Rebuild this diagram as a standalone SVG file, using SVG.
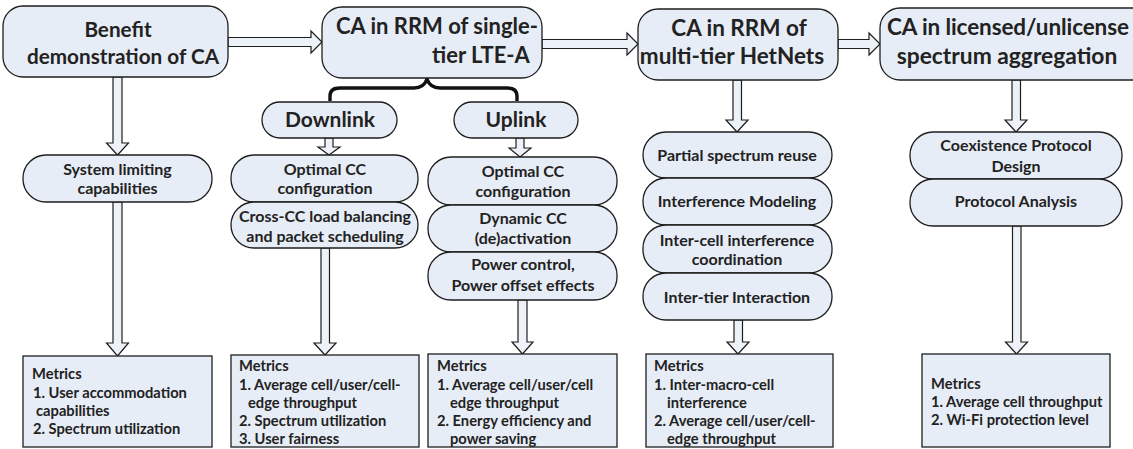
<svg xmlns="http://www.w3.org/2000/svg" width="1133" height="449" viewBox="0 0 1133 449">
<style>
.box{fill:#e7edf6;stroke:#1e1e1e;stroke-width:1.3}
.arr{fill:#edf1f8;stroke:#1e1e1e;stroke-width:1.2;stroke-linejoin:miter}
.brace{fill:none;stroke:#111;stroke-width:3.4;stroke-linejoin:round}
text{font-family:Lato,"Liberation Sans",sans-serif;font-weight:bold;fill:#222}
.t1{font-size:20.7px;text-anchor:middle}
.t2{font-size:21px;text-anchor:middle}
.t3{font-size:16px;text-anchor:middle}
.t4{font-size:14.7px}
</style>
<rect width="1133" height="449" fill="#ffffff"/>
<g id="connectors">
<polygon class="arr" points="228,37.5 311,37.5 311,31 322,42 311,53 311,46.5 228,46.5"/>
<polygon class="arr" points="542,39.5 627,39.5 627,33 638,44 627,55 627,48.5 542,48.5"/>
<polygon class="arr" points="838,39.5 869,39.5 869,33 880,44 869,55 869,48.5 838,48.5"/>
<polygon class="arr" points="113,77 122,77 122,143 128.5,143 117.5,155 106.5,143 113,143"/>
<polygon class="arr" points="113,202 122,202 122,343 128.5,343 117.5,356 106.5,343 113,343"/>
<polygon class="arr" points="325,138 333,138 333,147 340,147 329,155 318,147 325,147"/>
<polygon class="arr" points="321,248 329.5,248 329.5,343 336,343 325,355 314,343 321,343"/>
<polygon class="arr" points="516,138 524,138 524,148 531,148 520,157 509,148 516,148"/>
<polygon class="arr" points="518,300 527,300 527,342 533,342 522.5,354 512,342 518,342"/>
<polygon class="arr" points="733,80 741.5,80 741.5,120 748,120 737,132 726,120 733,120"/>
<polygon class="arr" points="734,320 742.5,320 742.5,342 749,342 738,354 727,342 734,342"/>
<polygon class="arr" points="1012,80 1020.5,80 1020.5,120 1027,120 1016,132 1005,120 1012,120"/>
<polygon class="arr" points="1012.5,226 1021,226 1021,342 1027.5,342 1016.5,354 1005.5,342 1012.5,342"/>
<path class="brace" d="M330,101 V96 Q330,88 340,88 H414 Q424,88 427,79 Q430,88 440,88 H507 Q517,88 517,96 V101"/>
</g>
<g id="benefit">
<rect class="box" x="3" y="6" width="225" height="71" rx="20"/>
<text class="t1" x="118" y="37">Benefit</text>
<text class="t1" x="123" y="64">demonstration of CA</text>
</g>
<g id="single-tier">
<rect class="box" x="322" y="7" width="220" height="71" rx="20"/>
<text class="t1" x="437" y="34" style="font-size:22px">CA in RRM of single-</text>
<text class="t1" x="432" y="63" style="text-anchor:start;font-size:22px">tier LTE-A</text>
</g>
<g id="multi-tier">
<rect class="box" x="638" y="9" width="200" height="71" rx="20"/>
<text class="t1" x="739" y="36" style="font-size:22.5px">CA in RRM of</text>
<text class="t1" x="732" y="64" style="font-size:22.5px">multi-tier HetNets</text>
</g>
<g id="licensed">
<rect class="box" x="880" y="8" width="272" height="72" rx="20"/>
<text class="t1" x="887" y="35" style="text-anchor:start;font-size:22.5px" textLength="242" lengthAdjust="spacing">CA in licensed/unlicense</text>
<text class="t1" x="1007" y="64" style="font-size:22.8px">spectrum aggregation</text>
</g>
<g id="downlink">
<rect class="box" x="262" y="102" width="135" height="36" rx="18"/>
<text class="t2" x="330" y="127">Downlink</text>
</g>
<g id="uplink">
<rect class="box" x="454" y="102" width="124" height="36" rx="18"/>
<text class="t2" x="516" y="127">Uplink</text>
</g>
<g id="system-limiting">
<rect class="box" x="23" y="155" width="189" height="47" rx="23"/>
<text class="t3" x="117.5" y="175">System limiting</text>
<text class="t3" x="117.5" y="194">capabilities</text>
</g>
<g id="dl-optimal-cc">
<rect class="box" x="231" y="155" width="187" height="47" rx="23"/>
<text class="t3" x="325" y="175">Optimal CC</text>
<text class="t3" x="325" y="194">configuration</text>
</g>
<g id="dl-cross-cc">
<rect class="box" x="231" y="202" width="187" height="46" rx="23"/>
<text class="t3" x="325" y="222">Cross-CC load balancing</text>
<text class="t3" x="325" y="242">and packet scheduling</text>
</g>
<g id="ul-optimal-cc">
<rect class="box" x="428" y="157" width="189" height="48" rx="23"/>
<text class="t3" x="523" y="177">Optimal CC</text>
<text class="t3" x="523" y="197">configuration</text>
</g>
<g id="ul-dynamic-cc">
<rect class="box" x="428" y="205" width="189" height="47" rx="23"/>
<text class="t3" x="523" y="224">Dynamic CC</text>
<text class="t3" x="523" y="244">(de)activation</text>
</g>
<g id="ul-power">
<rect class="box" x="428" y="252" width="189" height="48" rx="23"/>
<text class="t3" x="523" y="270">Power control,</text>
<text class="t3" x="523" y="291">Power offset effects</text>
</g>
<g id="partial-reuse">
<rect class="box" x="643" y="132" width="189" height="46" rx="23"/>
<text class="t3" x="737" y="161">Partial spectrum reuse</text>
</g>
<g id="interference-modeling">
<rect class="box" x="643" y="178" width="189" height="47" rx="23"/>
<text class="t3" x="737" y="207">Interference Modeling</text>
</g>
<g id="icic">
<rect class="box" x="643" y="225" width="189" height="48" rx="23"/>
<text class="t3" x="737" y="246">Inter-cell interference</text>
<text class="t3" x="737" y="265">coordination</text>
</g>
<g id="inter-tier">
<rect class="box" x="643" y="273" width="189" height="47" rx="23"/>
<text class="t3" x="737" y="303">Inter-tier Interaction</text>
</g>
<g id="coexistence">
<rect class="box" x="910" y="132" width="212" height="47" rx="23"/>
<text class="t3" x="1016" y="151">Coexistence Protocol</text>
<text class="t3" x="1016" y="172">Design</text>
</g>
<g id="protocol-analysis">
<rect class="box" x="910" y="179" width="212" height="47" rx="23"/>
<text class="t3" x="1016" y="207">Protocol Analysis</text>
</g>
<g id="metrics-1">
<rect class="box" x="23" y="356" width="189" height="91"/>
<text class="t4" x="32" y="379">Metrics</text>
<text class="t4" x="33" y="398">1. User accommodation</text>
<text class="t4" x="36" y="416">capabilities</text>
<text class="t4" x="33" y="434">2. Spectrum utilization</text>
</g>
<g id="metrics-2">
<rect class="box" x="231" y="355" width="188" height="92"/>
<text class="t4" x="239" y="371">Metrics</text>
<text class="t4" x="239" y="390">1. Average cell/user/cell-</text>
<text class="t4" x="248" y="408">edge throughput</text>
<text class="t4" x="239" y="426">2. Spectrum utilization</text>
<text class="t4" x="239" y="444">3. User fairness</text>
</g>
<g id="metrics-3">
<rect class="box" x="428" y="354" width="189" height="93"/>
<text class="t4" x="437" y="371">Metrics</text>
<text class="t4" x="437" y="390">1. Average cell/user/cell</text>
<text class="t4" x="450" y="408">edge throughput</text>
<text class="t4" x="437" y="426">2. Energy efficiency and</text>
<text class="t4" x="450" y="444">power saving</text>
</g>
<g id="metrics-4">
<rect class="box" x="646" y="354" width="187" height="93"/>
<text class="t4" x="654" y="371">Metrics</text>
<text class="t4" x="654" y="390">1. Inter-macro-cell</text>
<text class="t4" x="667" y="408">interference</text>
<text class="t4" x="654" y="426">2. Average cell/user/cell-</text>
<text class="t4" x="667" y="444">edge throughput</text>
</g>
<g id="metrics-5">
<rect class="box" x="922" y="354" width="188" height="93"/>
<text class="t4" x="931" y="389">Metrics</text>
<text class="t4" x="931" y="407">1. Average cell throughput</text>
<text class="t4" x="931" y="425">2. Wi-Fi protection level</text>
</g>
</svg>
